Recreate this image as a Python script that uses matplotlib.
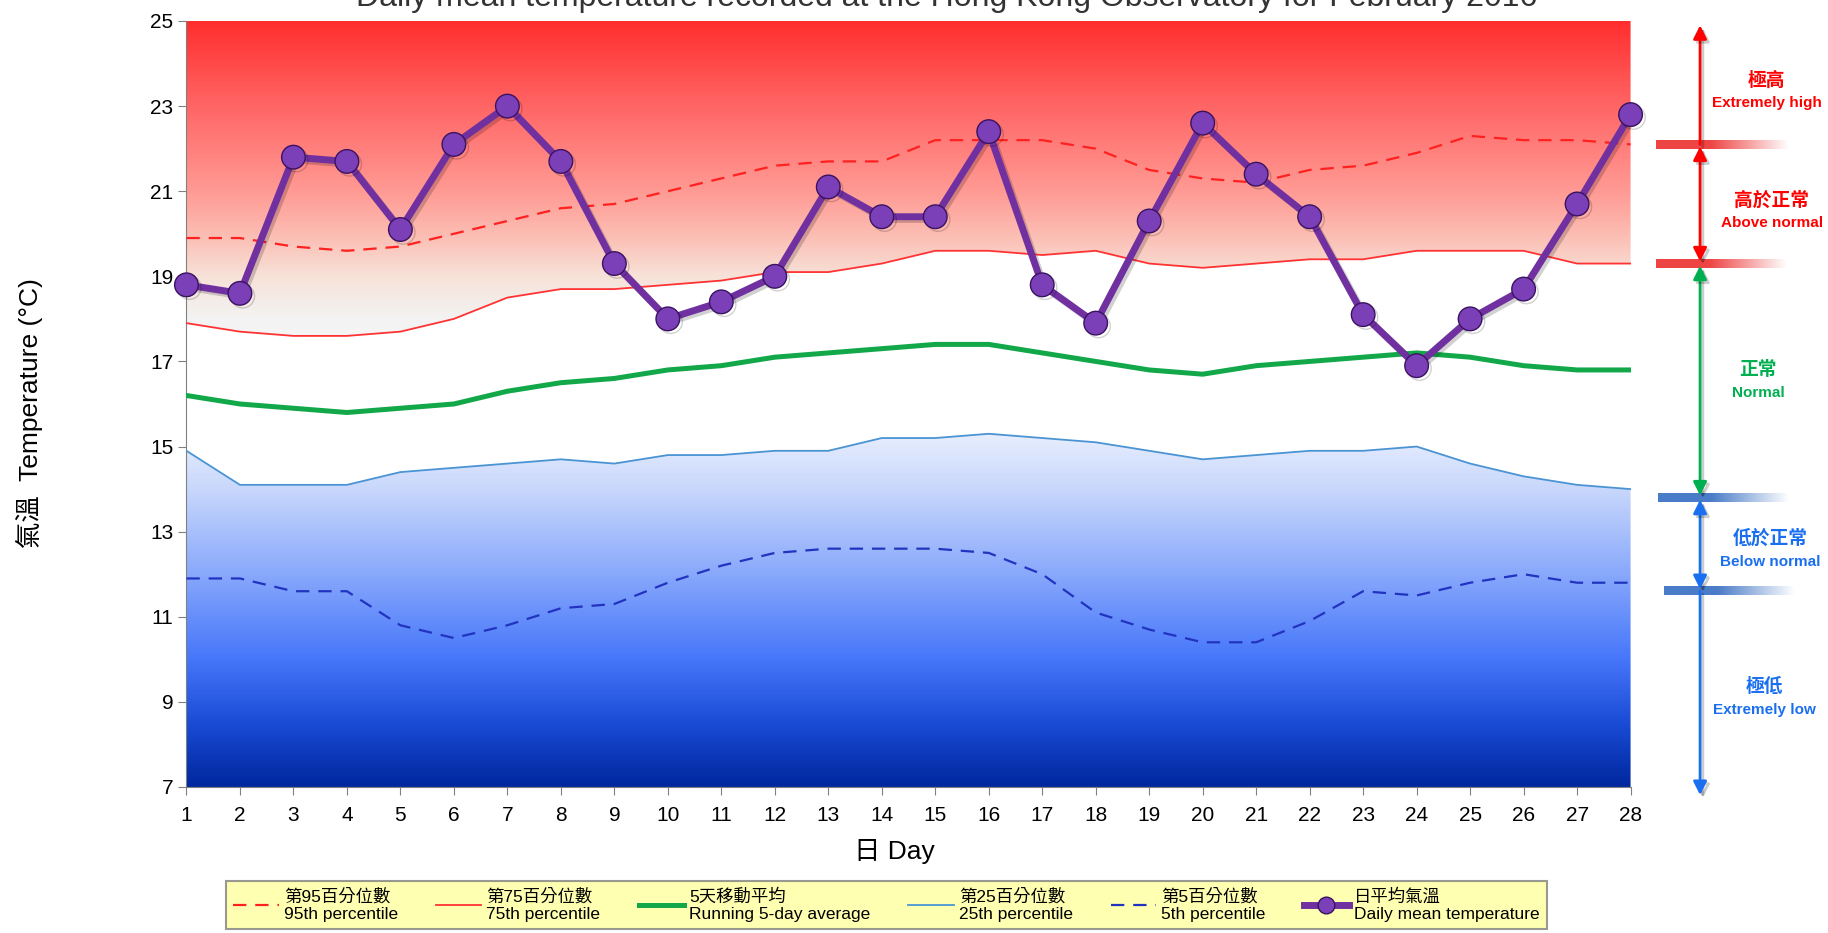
import numpy as np
import matplotlib
matplotlib.use('Agg')
import matplotlib.pyplot as plt
import matplotlib.patheffects as pe
from matplotlib.colors import LinearSegmentedColormap, to_rgb
from matplotlib.lines import Line2D

# DATA
days = list(range(1, 29))
daily_mean = [18.8, 18.6, 21.8, 21.7, 20.1, 22.1, 23.0, 21.7, 19.3, 18.0,
              18.4, 19.0, 21.1, 20.4, 20.4, 22.4, 18.8, 17.9, 20.3, 22.6,
              21.4, 20.4, 18.1, 16.9, 18.0, 18.7, 20.7, 22.8]
p95 = [19.9, 19.9, 19.7, 19.6, 19.7, 20.0, 20.3, 20.6, 20.7, 21.0,
       21.3, 21.6, 21.7, 21.7, 22.2, 22.2, 22.2, 22.0, 21.5, 21.3,
       21.2, 21.5, 21.6, 21.9, 22.3, 22.2, 22.2, 22.1]
p75 = [17.9, 17.7, 17.6, 17.6, 17.7, 18.0, 18.5, 18.7, 18.7, 18.8,
       18.9, 19.1, 19.1, 19.3, 19.6, 19.6, 19.5, 19.6, 19.3, 19.2,
       19.3, 19.4, 19.4, 19.6, 19.6, 19.6, 19.3, 19.3]
run5 = [16.2, 16.0, 15.9, 15.8, 15.9, 16.0, 16.3, 16.5, 16.6, 16.8,
        16.9, 17.1, 17.2, 17.3, 17.4, 17.4, 17.2, 17.0, 16.8, 16.7,
        16.9, 17.0, 17.1, 17.2, 17.1, 16.9, 16.8, 16.8]
p25 = [14.9, 14.1, 14.1, 14.1, 14.4, 14.5, 14.6, 14.7, 14.6, 14.8,
       14.8, 14.9, 14.9, 15.2, 15.2, 15.3, 15.2, 15.1, 14.9, 14.7,
       14.8, 14.9, 14.9, 15.0, 14.6, 14.3, 14.1, 14.0]
p5 = [11.9, 11.9, 11.6, 11.6, 10.8, 10.5, 10.8, 11.2, 11.3, 11.8,
      12.2, 12.5, 12.6, 12.6, 12.6, 12.5, 12.0, 11.1, 10.7, 10.4,
      10.4, 10.9, 11.6, 11.5, 11.8, 12.0, 11.8, 11.8]

# class boundaries shown on the right-hand scale
thresholds = [22.1, 19.3, 13.8, 11.6]

yticks = list(range(7, 26, 2))

legend_labels = ['第95百分位數\n95th percentile', '第75百分位數\n75th percentile',
                 '5天移動平均\nRunning 5-day average', '第25百分位數\n25th percentile',
                 '第5百分位數\n5th percentile', '日平均氣溫\nDaily mean temperature']

plt.rcParams['font.family'] = ['Liberation Sans', 'Noto Sans CJK TC', 'DejaVu Sans']

fig = plt.figure(figsize=(18.28, 9.33), dpi=100)
ax = fig.add_axes([0.102, 0.1565, 0.790, 0.821])

# BACKGROUND GRADIENTS

yy = np.linspace(7, 25, 600).reshape(-1, 1)
red_cmap = LinearSegmentedColormap.from_list('reds', [
    (0.0, '#f5f5f5'), (0.067, '#f3f3f3'), (0.2, '#f7e2d8'), (0.333, '#fcbcb2'),
    (0.467, '#ff9a94'), (0.733, '#ff6666'), (1.0, '#ff2e2e')])
blue_cmap = LinearSegmentedColormap.from_list('blues', [
    (0.0, '#00279e'), (0.176, '#1a4cd6'), (0.353, '#4676fa'), (0.588, '#88a8fc'),
    (0.824, '#c8d7fb'), (1.0, '#ecf1ff')])

red_img = ax.imshow(yy, extent=[1, 28, 7, 25], origin='lower', aspect='auto',
                    cmap=red_cmap, vmin=17.5, vmax=25, zorder=0, interpolation='bilinear')
red_area = ax.fill_between(days, p75, 25, facecolor='none', edgecolor='none')
red_img.set_clip_path(red_area.get_paths()[0], transform=ax.transData)

blue_img = ax.imshow(yy, extent=[1, 28, 7, 25], origin='lower', aspect='auto',
                     cmap=blue_cmap, vmin=7, vmax=15.5, zorder=0, interpolation='bilinear')
blue_area = ax.fill_between(days, 7, p25, facecolor='none', edgecolor='none')
blue_img.set_clip_path(blue_area.get_paths()[0], transform=ax.transData)

# LINES

l95, = ax.plot(days, p95, color='#ff2020', lw=1.6, ls=(0, (6, 4)), zorder=3)
l75, = ax.plot(days, p75, color='#ff3333', lw=1.3, zorder=3)
lrun, = ax.plot(days, run5, color='#12a84a', lw=3.6, zorder=3)
l25, = ax.plot(days, p25, color='#4a94d4', lw=1.3, zorder=3)
l5, = ax.plot(days, p5, color='#2233c0', lw=1.6, ls=(0, (6, 4)), zorder=3)
lmean, = ax.plot(days, daily_mean, color='#7030a0', lw=5, marker='o', ms=17,
                 mfc='#7b40b8', mec='#3a1260', mew=1.0, zorder=5, clip_on=False,
                 path_effects=[pe.SimpleLineShadow(offset=(2, -2), alpha=0.18), pe.Normal()])

ax.set_xlim(1, 28)
ax.set_ylim(7, 25)
ax.set_xticks(days)
ax.set_yticks(yticks)
ax.tick_params(axis='both', labelsize=15, color='#808080', direction='out', length=6)
ax.tick_params(axis='x', pad=8)
for side_name in ['top', 'right']:
    ax.spines[side_name].set_visible(False)
for side_name in ['left', 'bottom']:
    ax.spines[side_name].set_color('#808080')

# TEXTS

fig.text(0.518, 0.9936, 'Daily mean temperature recorded at the Hong Kong Observatory for February 2016',
         ha='center', va='baseline', fontsize=23, color='#333333')
fig.text(0.016, 0.557, '氣溫  Temperature (°C)', rotation=90, ha='center', va='center', fontsize=19)
fig.text(0.489, 0.087, '日 Day', ha='center', va='center', fontsize=19)

# LEGEND

handles = [l95, l75, lrun, l25, l5,
           Line2D([], [], color='#7030a0', lw=5, marker='o', ms=12, mfc='#7b40b8', mec='#3a1260')]
leg = fig.legend(handles, legend_labels, loc='upper center', bbox_to_anchor=(0.485, 0.0557),
                 ncol=6, frameon=True, fancybox=False, facecolor='#ffff9e', edgecolor='#808080',
                 fontsize=12.5, handlelength=2.6, columnspacing=2.2, handletextpad=0.3,
                 borderaxespad=0, borderpad=0.4)
leg.get_frame().set_linewidth(1.5)

# RIGHT-HAND CLASS SCALE

side = fig.add_axes([0.892, 0.1565, 0.108, 0.821])
side.axis('off')

arrow_x = 0.352


def fade_bar(y, color, x0, x1):
    rgba = np.zeros((1, 200, 4))
    rgba[..., :3] = to_rgb(color)
    rgba[..., 3] = np.clip(np.linspace(1.7, 0, 200), 0, 1)
    side.imshow(rgba, extent=[x0, x1, y - 0.1, y + 0.1], aspect='auto', interpolation='bilinear')


fade_bar(thresholds[0], '#ee4444', 0.13, 0.80)
fade_bar(thresholds[1], '#ee4444', 0.13, 0.79)
fade_bar(thresholds[2], '#4a7cc8', 0.14, 0.80)
fade_bar(thresholds[3], '#4a7cc8', 0.17, 0.83)

red = '#ff0000'
green = '#00b050'
blue = '#1a6ff0'
shadow = [pe.SimpleLineShadow(offset=(2, -2), alpha=0.2), pe.Normal()]


def arrow(y0, y1, color, style):
    side.annotate('', xy=(arrow_x, y1), xytext=(arrow_x, y0), annotation_clip=False,
                  arrowprops=dict(arrowstyle=style, color=color, lw=2, mutation_scale=20,
                                  shrinkA=0, shrinkB=0, path_effects=shadow))


arrow(thresholds[0], 24.9, red, '-|>')
arrow(thresholds[1] + 0.05, thresholds[0] - 0.05, red, '<|-|>')
arrow(thresholds[2] + 0.05, thresholds[1] - 0.05, green, '<|-|>')
arrow(thresholds[3] + 0.05, thresholds[2] - 0.05, blue, '<|-|>')
arrow(thresholds[3], 6.81, blue, '-|>')

side_labels = [('極高', 'Extremely high', 0.69, 23.61, 23.07, red),
               ('高於正常', 'Above normal', 0.715, 20.79, 20.25, red),
               ('正常', 'Normal', 0.645, 16.80, 16.26, green),
               ('低於正常', 'Below normal', 0.71, 12.85, 12.29, blue),
               ('極低', 'Extremely low', 0.68, 9.35, 8.81, blue)]
for zh, en, x, y_zh, y_en, c in side_labels:
    side.text(x, y_zh, zh, ha='center', va='center', fontsize=13.5, fontweight='bold', color=c,
              family=['Noto Sans CJK TC'])
    side.text(x, y_en, en, ha='center', va='center', fontsize=11, fontweight='bold', color=c)

side.set_xlim(0, 1)
side.set_ylim(7, 25)

fig.savefig('out.png', dpi=100)
